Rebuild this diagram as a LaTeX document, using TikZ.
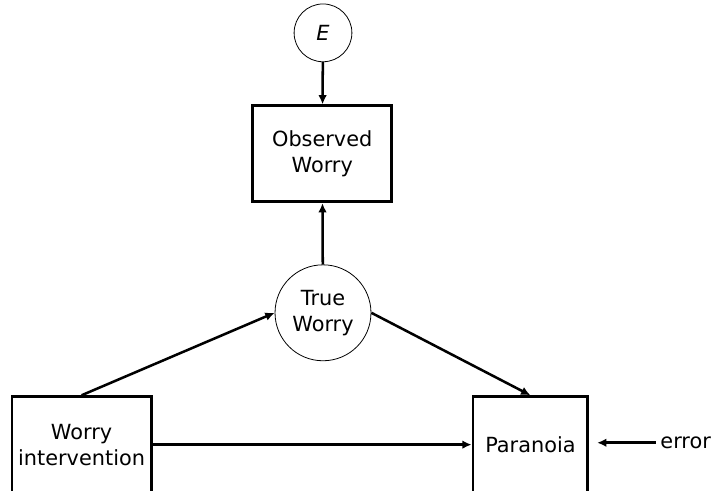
\documentclass[tikz,border=0pt]{standalone}
\usepackage{fontspec}
\setmainfont{DejaVu Sans}
\usetikzlibrary{arrows.meta}

\tikzset{
    latent/.style={circle, draw, line width=0.6pt, minimum size=#1, inner sep=0pt, align=center},
    manifest/.style={rectangle, draw, line width=2.1pt, minimum height=2.54cm, align=center},
    path/.style={line width=1.9pt, -{Latex[length=7pt,width=6.5pt]}}
}

\begin{document}
\begin{tikzpicture}[font=\fontsize{15.7}{19.5}\selectfont]
        \useasboundingbox (0,0) rectangle (18.9,12.99);

        % Nodes
        \node[latent=1.53cm] (E) at (8.55,12.12) {\itshape E};
        \node[manifest, minimum width=3.68cm] (observed) at (8.53,8.92) {Observed\\Worry};
        \node[latent=2.54cm] (true) at (8.55,4.71) {True\\Worry};
        \node[manifest, minimum width=3.68cm] (interv) at (2.16,1.22) {Worry\\intervention};
        \node[manifest, minimum width=3.04cm] (paranoia) at (14.04,1.22) {Paranoia};
        \node (error) at (18.15,1.27) {error};

        % Paths
        \draw[path] (E) -- (observed);
        \draw[path] (true) -- (observed);
        \draw[path] (interv.north) -- (true.west);
        \draw[path] (true.east) -- (paranoia.north);
        \draw[path] (interv) -- (paranoia);
        \draw[path, shorten >=6pt] (error) -- (error -| paranoia.east);
    \end{tikzpicture}
\end{document}
